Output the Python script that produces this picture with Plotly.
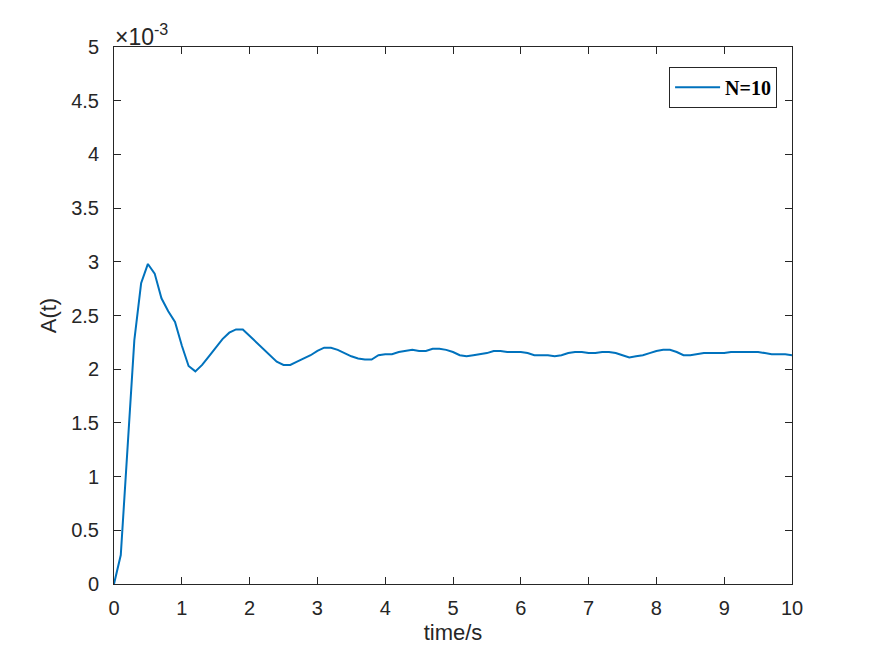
import plotly.graph_objects as go

# time samples (s)
time_s = [i / 10 for i in range(101)]
# A(t) values in units of 1e-3
A_vals = [
    0.00, 0.27, 1.27, 2.27, 2.80, 2.98, 2.89, 2.66, 2.54, 2.44,
    2.22, 2.03, 1.98, 2.04, 2.12, 2.20, 2.28, 2.34, 2.37, 2.37,
    2.31, 2.25, 2.19, 2.13, 2.07, 2.04, 2.04, 2.07, 2.10, 2.13,
    2.17, 2.20, 2.20, 2.18, 2.15, 2.12, 2.10, 2.09, 2.09, 2.13,
    2.14, 2.14, 2.16, 2.17, 2.18, 2.17, 2.17, 2.19, 2.19, 2.18,
    2.16, 2.13, 2.12, 2.13, 2.14, 2.15, 2.17, 2.17, 2.16, 2.16,
    2.16, 2.15, 2.13, 2.13, 2.13, 2.12, 2.13, 2.15, 2.16, 2.16,
    2.15, 2.15, 2.16, 2.16, 2.15, 2.13, 2.11, 2.12, 2.13, 2.15,
    2.17, 2.18, 2.18, 2.16, 2.13, 2.13, 2.14, 2.15, 2.15, 2.15,
    2.15, 2.16, 2.16, 2.16, 2.16, 2.16, 2.15, 2.14, 2.14, 2.14,
    2.13,
]
x_ticks = [0, 1, 2, 3, 4, 5, 6, 7, 8, 9, 10]
y_ticks = [0, 0.5, 1, 1.5, 2, 2.5, 3, 3.5, 4, 4.5, 5]
y_tick_labels = ["0", "0.5", "1", "1.5", "2", "2.5", "3", "3.5", "4", "4.5", "5"]
series_name = "N=10"

axis_col = "#262626"
font_fam = "Liberation Sans, Arial, Helvetica, sans-serif"

fig = go.Figure()
fig.add_trace(go.Scatter(
    x=time_s, y=A_vals, mode="lines", name="<b>" + series_name + "</b>",
    line=dict(color="#0072BD", width=2),
))

axis_common = dict(
    showline=True, linecolor=axis_col, linewidth=1, mirror="ticks",
    ticks="inside", ticklen=7, tickcolor=axis_col, tickwidth=1,
    showgrid=False, zeroline=False,
    tickfont=dict(family=font_fam, size=20, color=axis_col),
)

fig.update_layout(
    width=875, height=657,
    paper_bgcolor="white", plot_bgcolor="white",
    margin=dict(l=114, r=83, t=47, b=73),
    xaxis=dict(range=[0, 10], tickvals=x_ticks, ticklabelstandoff=6, **axis_common,
               title=dict(text="time/s", font=dict(family=font_fam, size=22, color=axis_col),
                          standoff=6)),
    yaxis=dict(range=[0, 5], tickvals=y_ticks, ticktext=y_tick_labels, ticklabelstandoff=10,
               **axis_common,
               title=dict(text="A(t)", font=dict(family=font_fam, size=22, color=axis_col),
                          standoff=8)),
    showlegend=True,
    legend=dict(
        x=0.978, y=0.963, xanchor="right", yanchor="top",
        bgcolor="white", bordercolor=axis_col, borderwidth=1,
        itemwidth=45, tracegroupgap=0,
        font=dict(family="Liberation Serif, Times New Roman, serif", size=20, color="black"),
    ),
)
fig.add_annotation(
    text="×10<sup>-3</sup>", xref="paper", yref="paper", x=0, y=1,
    xanchor="left", yanchor="bottom", showarrow=False, xshift=-1, yshift=-5,
    font=dict(family=font_fam, size=23, color=axis_col),
)

fig.write_html("out.html")
